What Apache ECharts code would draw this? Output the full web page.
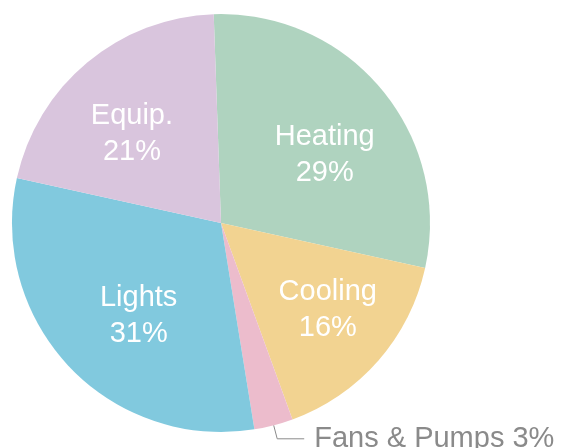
<!DOCTYPE html>
<html>
<head>
<meta charset="utf-8">
<script src="https://cdn.jsdelivr.net/npm/echarts@6/dist/echarts.min.js"></script>
<style>
  html, body { margin: 0; padding: 0; background: #fff; }
  #main { width: 562px; height: 448px; }
</style>
</head>
<body>
<div id="main"></div>
<script>
// slices, clockwise from the top
const categories = ['Heating', 'Cooling', 'Fans & Pumps', 'Lights', 'Equip.'];
const shares = [29, 16, 3, 31, 21];
const colors = ['#afd3bf', '#f2d391', '#ecbccc', '#81c9de', '#d9c5dd'];

const center = [221, 223];
// where the inside labels sit: distance from centre and a small turn (deg, screen)
const labelDist = [124, 138, 0, 124, 126];
const labelTurn = [6.6, -1.9, 0, -5, -5.2];

const chart = echarts.init(document.getElementById('main'));

chart.setOption({
  animation: false,
  series: [{
    type: 'pie',
    center: center,
    radius: 209,
    startAngle: 92,
    clockwise: true,
    itemStyle: { borderWidth: 0 },
    label: {
      position: 'inside',
      color: '#fff',
      fontFamily: 'Liberation Sans, Arial, sans-serif',
      fontSize: 29,
      lineHeight: 36,
      formatter: p => p.name + '\n' + p.value + '%'
    },
    labelLayout: function (params) {
      const i = params.dataIndex;
      if (i === 2) return {};
      const r = params.labelRect;
      const cx = r.x + r.width / 2, cy = r.y + r.height / 2;
      const a = Math.atan2(cy - center[1], cx - center[0]) + labelTurn[i] * Math.PI / 180;
      return {
        dx: center[0] + labelDist[i] * Math.cos(a) - cx,
        dy: center[1] + labelDist[i] * Math.sin(a) - cy
      };
    },
    data: categories.map((name, i) => {
      const item = { name: name, value: shares[i], itemStyle: { color: colors[i] } };
      if (i === 2) {
        item.label = {
          position: 'outside',
          color: '#8a8a8a',
          fontSize: 29,
          overflow: 'none',
          width: 260,
          distanceToLabelLine: 10,
          formatter: p => p.name + ' ' + p.value + '%'
        };
        item.labelLine = {
          show: true,
          length: 14,
          length2: 27,
          lineStyle: { color: '#8a8a8a', width: 1 }
        };
      }
      return item;
    })
  }]
});
</script>
</body>
</html>
